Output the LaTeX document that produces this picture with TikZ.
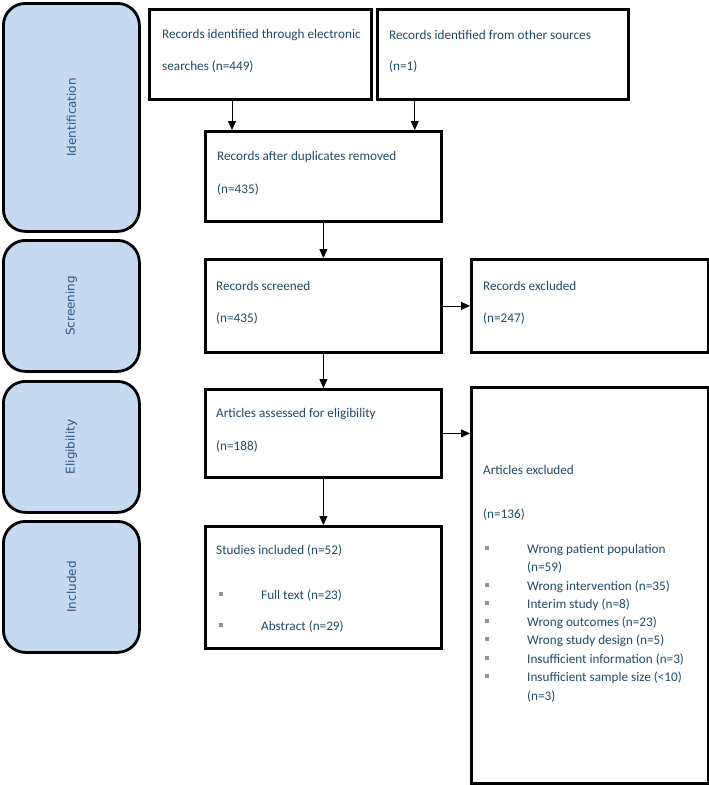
\documentclass[tikz,border=0pt]{standalone}
\usepackage{fontspec}
\setmainfont{Carlito}
\newfontfamily\stagefont{DejaVu Sans}
\usetikzlibrary{arrows.meta}
\definecolor{stagefill}{RGB}{197,217,241}
\definecolor{stagetext}{RGB}{45,88,128}
\definecolor{boxtext}{RGB}{32,76,102}
\definecolor{bulletgray}{RGB}{145,145,145}

\begin{document}
\begin{tikzpicture}[x=1pt,y=-1pt]
\useasboundingbox (0,0) rectangle (709,785);

\begin{scope}[every node/.style={rectangle,rounded corners=22pt,draw=black,line width=2.8pt,fill=stagefill,minimum width=136pt,anchor=north west}]
    \node (I)[minimum height=228pt] at (2,2) {};
    \node (S)[minimum height=131pt] at (2,239) {};
    \node (E)[minimum height=131pt] at (2,380) {};
    \node (N)[minimum height=131pt] at (2,520) {};
\end{scope}

\begin{scope}[every node/.style={rotate=90,text=stagetext,font=\stagefont\fontsize{12}{14}\selectfont}]
    \node (Ilab) at (I.center) {Identification};
    \node (Slab) at (S.center) {Screening};
    \node (Elab) at (E.center) {Eligibility};
    \node (Nlab) at (N.center) {Included};
\end{scope}

\begin{scope}[every node/.style={rectangle,draw=black,line width=2.8pt,fill=white,anchor=north west,inner sep=0}]
    \node (elec)[minimum width=222pt,minimum height=90pt] at (148,8) {};
    \node (other)[minimum width=251pt,minimum height=90pt] at (376,8) {};
    \node (dup)[minimum width=236pt,minimum height=90pt] at (204,130) {};
    \node (scr)[minimum width=236pt,minimum height=93pt] at (204,258) {};
    \node (rexc)[minimum width=237pt,minimum height=93pt] at (470,258) {};
    \node (elig)[minimum width=236pt,minimum height=88pt] at (204,388) {};
    \node (aexc)[minimum width=237pt,minimum height=396pt] at (470,386) {};
    \node (incl)[minimum width=236pt,minimum height=122pt] at (204,525) {};
\end{scope}

\begin{scope}[every node/.style={anchor=west,inner sep=0,text=boxtext,font=\fontsize{13.2}{15}\selectfont}]
    \node (elec1) at (162,35) {Records identified through electronic};
    \node (elec2) at (162,67) {searches (n=449)};
    \node (other1) at (389,35) {Records identified from other sources};
    \node (other2) at (389,67) {(n=1)};
    \node (dup1) at (217,157) {Records after duplicates removed};
    \node (dup2) at (217,190) {(n=435)};
    \node (scr1) at (216,286) {Records screened};
    \node (scr2) at (216,319) {(n=435)};
    \node (rexc1) at (483,286) {Records excluded};
    \node (rexc2) at (483,319) {(n=247)};
    \node (elig1) at (216,414) {Articles assessed for eligibility};
    \node (elig2) at (216,447) {(n=188)};
    \node (aexc1) at (483,470) {Articles excluded};
    \node (aexc2) at (483,515) {(n=136)};
    \node (r1) at (527,550) {Wrong patient population};
    \node (r1b) at (527,568) {(n=59)};
    \node (r2) at (527,587) {Wrong intervention (n=35)};
    \node (r3) at (527,605) {Interim study (n=8)};
    \node (r4) at (527,623) {Wrong outcomes (n=23)};
    \node (r5) at (527,641) {Wrong study design (n=5)};
    \node (r6) at (527,660) {Insufficient information (n=3)};
    \node (r7) at (527,678) {Insufficient sample size (<10)};
    \node (r7b) at (527,697) {(n=3)};
    \node (incl1) at (216,551) {Studies included (n=52)};
    \node (incl2) at (261,596) {Full text (n=23)};
    \node (incl3) at (261,627) {Abstract (n=29)};
\end{scope}

\begin{scope}[every node/.style={rectangle,fill=bulletgray,inner sep=0,minimum size=4.5pt}]
    \node (b1) at ([xshift=-40pt,yshift=2pt]r1.west) {};
    \node (b2) at ([xshift=-40pt,yshift=2pt]r2.west) {};
    \node (b3) at ([xshift=-40pt,yshift=2pt]r3.west) {};
    \node (b4) at ([xshift=-40pt,yshift=2pt]r4.west) {};
    \node (b5) at ([xshift=-40pt,yshift=2pt]r5.west) {};
    \node (b6) at ([xshift=-40pt,yshift=2pt]r6.west) {};
    \node (b7) at ([xshift=-40pt,yshift=2pt]r7.west) {};
    \node (b8) at ([xshift=-40pt,yshift=2pt]incl2.west) {};
    \node (b9) at ([xshift=-40pt,yshift=2pt]incl3.west) {};
\end{scope}

\coordinate (a1) at ([xshift=28pt]dup.north west);
\coordinate (a2) at ([xshift=-28pt]dup.north east);

\begin{scope}[every edge/.style={draw=black,line width=0.8pt,-{Triangle[length=9pt,width=8pt]}}]
    \path (a1 |- elec.south) edge (a1);
    \path (a2 |- other.south) edge (a2);
    \path (dup.south) edge (scr.north);
    \path (scr.east) edge (rexc.west);
    \path (scr.south) edge (elig.north);
    \path (elig.east) edge (elig.east -| aexc.west);
    \path (elig.south) edge (incl.north);
\end{scope}
\end{tikzpicture}
\end{document}
